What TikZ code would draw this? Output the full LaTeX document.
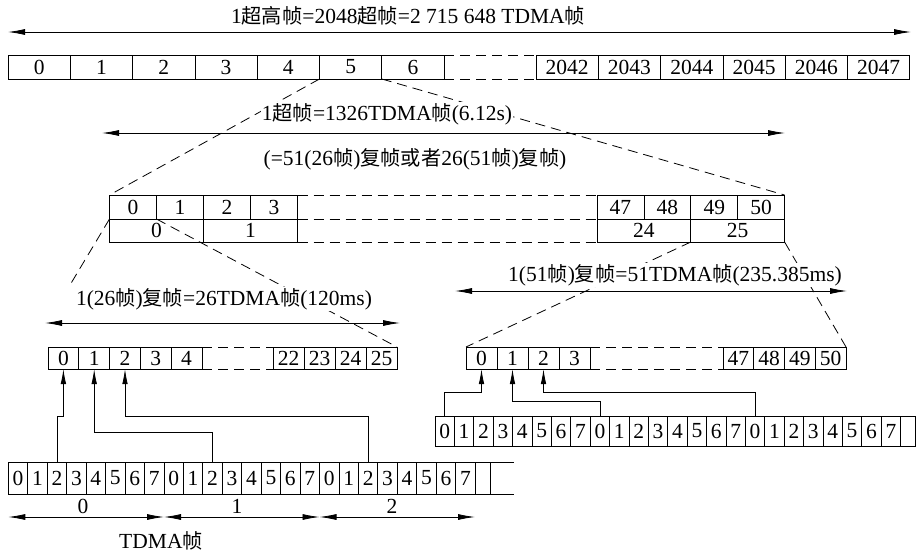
\documentclass[tikz,border=0pt]{standalone}
\usepackage{fontspec}
\setmainfont{Liberation Serif}
\newfontfamily\cjk[Scale=0.94]{Noto Sans CJK SC}
\newcommand{\zh}[1]{{\cjk #1}}
\usepackage{tikz}
\usetikzlibrary{calc, arrows.meta, positioning}

\begin{document}
\begin{tikzpicture}[x=1pt, y=-1pt, line width=0.8pt,
  font=\fontsize{21.5}{25}\selectfont,
  cell/.style={draw, inner sep=0pt, outer sep=0pt},
  gap/.style={dash pattern=on 10pt off 6pt},
  dim/.style={{Latex[length=17pt,width=6pt]}-{Latex[length=17pt,width=6pt]}},
  feed/.style={-{Latex[length=15pt,width=5.5pt]}},
  lbl/.style={fill=white, inner sep=1pt}]
  \useasboundingbox (0,0) rectangle (918,557);

  % Hyperframe row
  \foreach \i in {0,...,6}
    \node[cell, minimum width=62.3, minimum height=24] (t\i) at ({39.15+62.3*\i},67) {\i};
  \foreach \n in {2042,...,2047}
    \node[cell, minimum width=62.3, minimum height=24] (t\n) at ({567.15+62.3*(\n-2042)},67) {\n};
  \draw[gap] (t6.north east) -- (t2042.north west);
  \draw[gap] (t6.south east) -- (t2042.south west);

  % Superframe block
  \foreach \i in {0,...,3}
    \node[cell, minimum width=47, minimum height=24] (s\i) at ({133+47*\i},207) {\i};
  \foreach \n in {47,...,50}
    \node[cell, minimum width=46.9, minimum height=24] (s\n) at ({620.45+46.9*(\n-47)},207) {\n};
  \node[cell, minimum width=94, minimum height=23] (m0) at (156.5,230.5) {0};
  \node[cell, minimum width=94, minimum height=23] (m1) at (250.5,230.5) {1};
  \node[cell, minimum width=93.8, minimum height=23] (m24) at (643.9,230.5) {24};
  \node[cell, minimum width=93.8, minimum height=23] (m25) at (737.7,230.5) {25};
  \draw[gap] (s3.north east) -- (s47.north west);
  \draw[gap] (m1.north east) -- (m24.north west);
  \draw[gap] (m1.south east) -- (m24.south west);

  % 26-frame multiframe
  \foreach \i in {0,...,4}
    \node[cell, minimum width=30.8, minimum height=22] (f\i) at ({63.4+30.8*\i},358) {\i};
  \foreach \n in {22,...,25}
    \node[cell, minimum width=31, minimum height=22] (f\n) at ({288.5+31*(\n-22)},358) {\n};
  \draw[gap] (f4.north east) -- (f22.north west);
  \draw[gap] (f4.south east) -- (f22.south west);

  % 51-frame multiframe
  \foreach \i in {0,...,3}
    \node[cell, minimum width=31, minimum height=22] (g\i) at ({481.5+31*\i},358) {\i};
  \foreach \n in {47,...,50}
    \node[cell, minimum width=30.75, minimum height=22] (g\n) at ({738.4+30.75*(\n-47)},358) {\n};
  \draw[gap] (g3.north east) -- (g47.north west);
  \draw[gap] (g3.south east) -- (g47.south west);

  % TDMA frames
  \foreach \i in {0,...,23}{
    \pgfmathtruncatemacro\ts{mod(\i,8)}
    \node[cell, minimum width=19.45, minimum height=32] (l\i) at ({18.03+19.45*\i},478) {\ts};
    \node[cell, minimum width=19.4, minimum height=30] (r\i) at ({444.7+19.4*\i},431) {\ts};
  }
  \node[cell, minimum width=15, minimum height=32] (lb) at (482.5,478) {};
  \node[cell, minimum width=14.4, minimum height=30] (rb) at (907.8,431) {};
  \coordinate (lt) at (514,462);
  \coordinate (lbt) at (514,494);
  \draw (lb.north east) -- (lt);
  \draw (lb.south east) -- (lbt);

  % Zoom lines
  \coordinate (cut) at (70,285);
  \draw[gap] (t5.south west) -- (s0.north west);
  \draw[gap] (t5.south east) -- (s50.north east);
  \draw[gap] (m0.north west) -- (cut);
  \draw[gap] (s0.south east) -- (f25.north east);
  \draw[gap] (m25.south west) -- (g0.north west);
  \draw[gap] (m25.south east) -- (g50.north east);

  % Labels
  \node[lbl] (hyper) at (408,16) {1\zh{超高帧}=2048\zh{超帧}=2 715 648 TDMA\zh{帧}};
  \node[lbl] (super) at (387,114) {1\zh{超帧}=1326TDMA\zh{帧}(6.12s)};
  \node[lbl] (superb) at (415,159) {(=51(26\zh{帧})\zh{复帧或者}26(51\zh{帧})\zh{复帧})};
  \node[lbl] (mf26) at (224,299) {1(26\zh{帧})\zh{复帧}=26TDMA\zh{帧}(120ms)};
  \node[lbl] (mf51) at (675,275) {1(51\zh{帧})\zh{复帧}=51TDMA\zh{帧}(235.385ms)};

  % Span arrows
  \coordinate (hL) at (8,32);
  \coordinate (hR) at (911,32);
  \coordinate (sL) at (102,133);
  \coordinate (sR) at (785,133);
  \coordinate (aL) at (45,323);
  \coordinate (aR) at (400,323);
  \coordinate (bL) at (455,291);
  \coordinate (bR) at (847,291);
  \draw[dim] (hL) -- (hR);
  \draw[dim] (sL) -- (sR);
  \draw[dim] (aL) -- (aR);
  \draw[dim] (bL) -- (bR);

  % TDMA frame spans
  \coordinate (d0) at (8.3,517);
  \coordinate (d1) at (164,517);
  \coordinate (d2) at (319.5,517);
  \coordinate (d3) at (475,517);
  \draw[dim] (d0) -- (d1);
  \draw[dim] (d1) -- (d2);
  \draw[dim] (d2) -- (d3);
  \node (n0) at (83,506) {0};
  \node (n1) at (237,506) {1};
  \node (n2) at (392,506) {2};
  \node (tdma) at (161,541) {TDMA\zh{帧}};

  % Timeslot feeds
  \draw[feed] (l2.north) -- ++(0,-46) -| (f0.south);
  \draw[feed] (l10.north) -- ++(0,-30) -| (f1.south);
  \draw[feed] (l18.north) -- ++(0,-46) -| (f2.south);
  \draw[feed] (r0.north) -- ++(0,-24) -| (g0.south);
  \draw[feed] (r8.north) -- ++(0,-15) -| (g1.south);
  \draw[feed] (r16.north) -- ++(0,-24) -| (g2.south);
\end{tikzpicture}
\end{document}
